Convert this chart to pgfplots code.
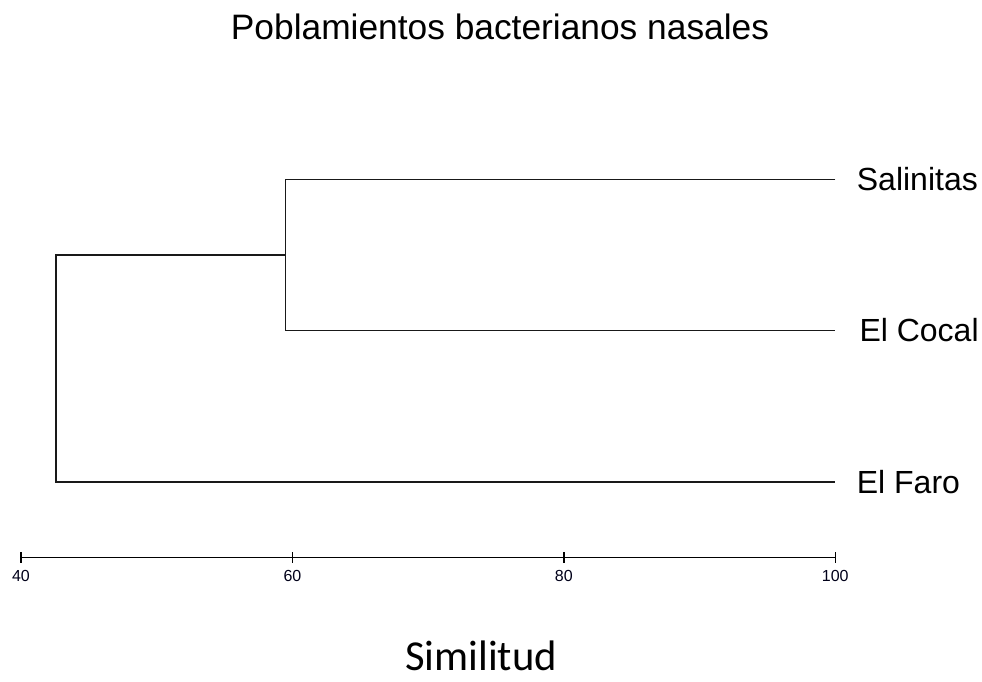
\documentclass[border=0pt]{standalone}
\usepackage{pgfplots}
\pgfplotsset{compat=1.18}
\usepackage{fontspec}
\setmainfont{Liberation Sans}
\newfontfamily\calibri{Carlito}
\begin{document}
\begin{tikzpicture}
\useasboundingbox (0,0) rectangle (736.5pt,511.5pt);
\begin{axis}[
  at={(15.75pt,93.5pt)}, anchor=south west,
  scale only axis,
  width=610.7pt, height=283.5pt,
  xmin=40, xmax=100, ymin=0.5, ymax=3,
  axis x line*=bottom, axis y line=none,
  xtick={40,60,80,100},
  tick align=center,
  major tick length=8pt,
  x axis line style={black, line width=1pt},
  xtick style={black, line width=1pt},
  xticklabel style={font=\fontsize{12}{14}\selectfont, text=black!90!blue, yshift=-2pt},
  /pgf/number format/assume math mode=true,
  clip=false,
]
\addplot[black!90, line width=1.2pt, mark=none] coordinates {(100,3) (59.5,3) (59.5,2) (100,2)};
\addplot[black!90, line width=1.2pt, mark=none] coordinates {(59.5,2.5) (42.6,2.5) (42.6,1) (100,1)};
\node[anchor=west, inner sep=0pt, font=\fontsize{24}{28}\selectfont] at (axis cs:100,3) [xshift=16pt] {Salinitas};
\node[anchor=west, inner sep=0pt, font=\fontsize{24}{28}\selectfont] at (axis cs:100,2) [xshift=18pt] {El Cocal};
\node[anchor=west, inner sep=0pt, font=\fontsize{24}{28}\selectfont] at (axis cs:100,1) [xshift=16pt] {El Faro};
\end{axis}
\node[anchor=base, inner sep=0pt, font=\fontsize{26.5}{30}\selectfont] at (375pt,481.5pt) {Poblamientos bacterianos nasales};
\node[anchor=base, inner sep=0pt, font=\calibri\fontsize{32}{36}\selectfont] at (360.75pt,9pt) {Similitud};
\end{tikzpicture}
\end{document}
